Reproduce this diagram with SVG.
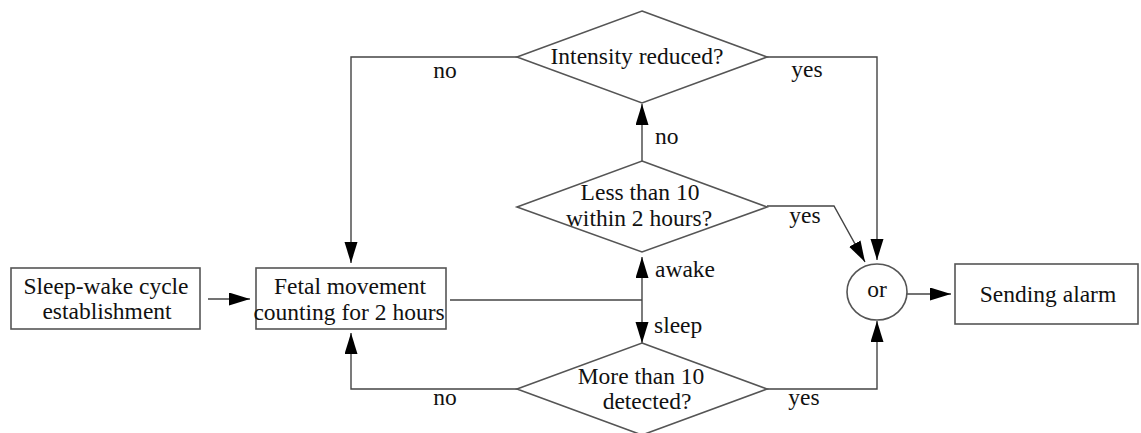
<svg xmlns="http://www.w3.org/2000/svg" width="1141" height="433" viewBox="0 0 1141 433" font-family="Liberation Serif" font-size="23.5">
<style>
.m{text-anchor:middle;}
.box{fill:#fff;stroke:#555;stroke-width:1.6;}
.con{fill:none;stroke:#444;stroke-width:1.4;}
</style>
<defs>
<marker id="ah" markerUnits="userSpaceOnUse" markerWidth="22" markerHeight="14" refX="21" refY="6.5" orient="auto">
<path d="M0,0 L21,6.5 L0,13 Z" fill="#000"/>
</marker>
</defs>
<rect width="1141" height="433" fill="#fff"/>
<g id="connectors" font-family="Liberation Serif" fill="#111">
<path class="con" d="M208,299 H250" marker-end="url(#ah)"/>
<path class="con" d="M517,57 H351 V263" marker-end="url(#ah)"/>
<path class="con" d="M517,389 H351 V333" marker-end="url(#ah)"/>
<path class="con" d="M450,300 H642"/>
<path class="con" d="M642,300 V257" marker-end="url(#ah)"/>
<path class="con" d="M642,300 V343" marker-end="url(#ah)"/>
<path class="con" d="M642,161 V104" marker-end="url(#ah)"/>
<path class="con" d="M767,57 H877 V260" marker-end="url(#ah)"/>
<path class="con" d="M767,206 H834 L865,262" marker-end="url(#ah)"/>
<path class="con" d="M767,389 H877 V321" marker-end="url(#ah)"/>
<path class="con" d="M907,294 H951" marker-end="url(#ah)"/>
<text x="445" y="78" class="m">no</text>
<text x="807" y="77" class="m">yes</text>
<text x="655" y="144">no</text>
<text x="805" y="223" class="m">yes</text>
<text x="655" y="277">awake</text>
<text x="654" y="333">sleep</text>
<text x="445" y="405" class="m">no</text>
<text x="804" y="405" class="m">yes</text>
</g>
<g id="sleep-wake" font-family="Liberation Serif" fill="#111">
<rect class="box" x="11" y="268" width="189" height="61"/>
<text x="106" y="294" class="m">Sleep-wake cycle</text>
<text x="107" y="319" class="m">establishment</text>
</g>
<g id="fetal" font-family="Liberation Serif" fill="#111">
<rect class="box" x="256" y="268" width="190" height="61"/>
<text x="350" y="294" class="m">Fetal movement</text>
<text x="349" y="320" class="m">counting for 2 hours</text>
</g>
<g id="intensity" font-family="Liberation Serif" fill="#111">
<polygon class="box" points="642,11 767,57 642,103 517,57"/>
<text x="637" y="64" class="m">Intensity reduced?</text>
</g>
<g id="less-than" font-family="Liberation Serif" fill="#111">
<polygon class="box" points="642,161 767,207 642,252 517,207"/>
<text x="640" y="200" class="m">Less than 10</text>
<text x="639" y="226" class="m">within 2 hours?</text>
</g>
<g id="more-than" font-family="Liberation Serif" fill="#111">
<polygon class="box" points="642,343 767,389 642,435 517,389"/>
<text x="641" y="384" class="m">More than 10</text>
<text x="647" y="409" class="m">detected?</text>
</g>
<g id="or" font-family="Liberation Serif" fill="#111">
<ellipse class="box" cx="877" cy="292" rx="30" ry="28"/>
<text x="877" y="297" class="m">or</text>
</g>
<g id="alarm" font-family="Liberation Serif" fill="#111">
<rect class="box" x="955" y="264" width="183" height="60"/>
<text x="1048" y="302" class="m">Sending alarm</text>
</g>
</svg>
